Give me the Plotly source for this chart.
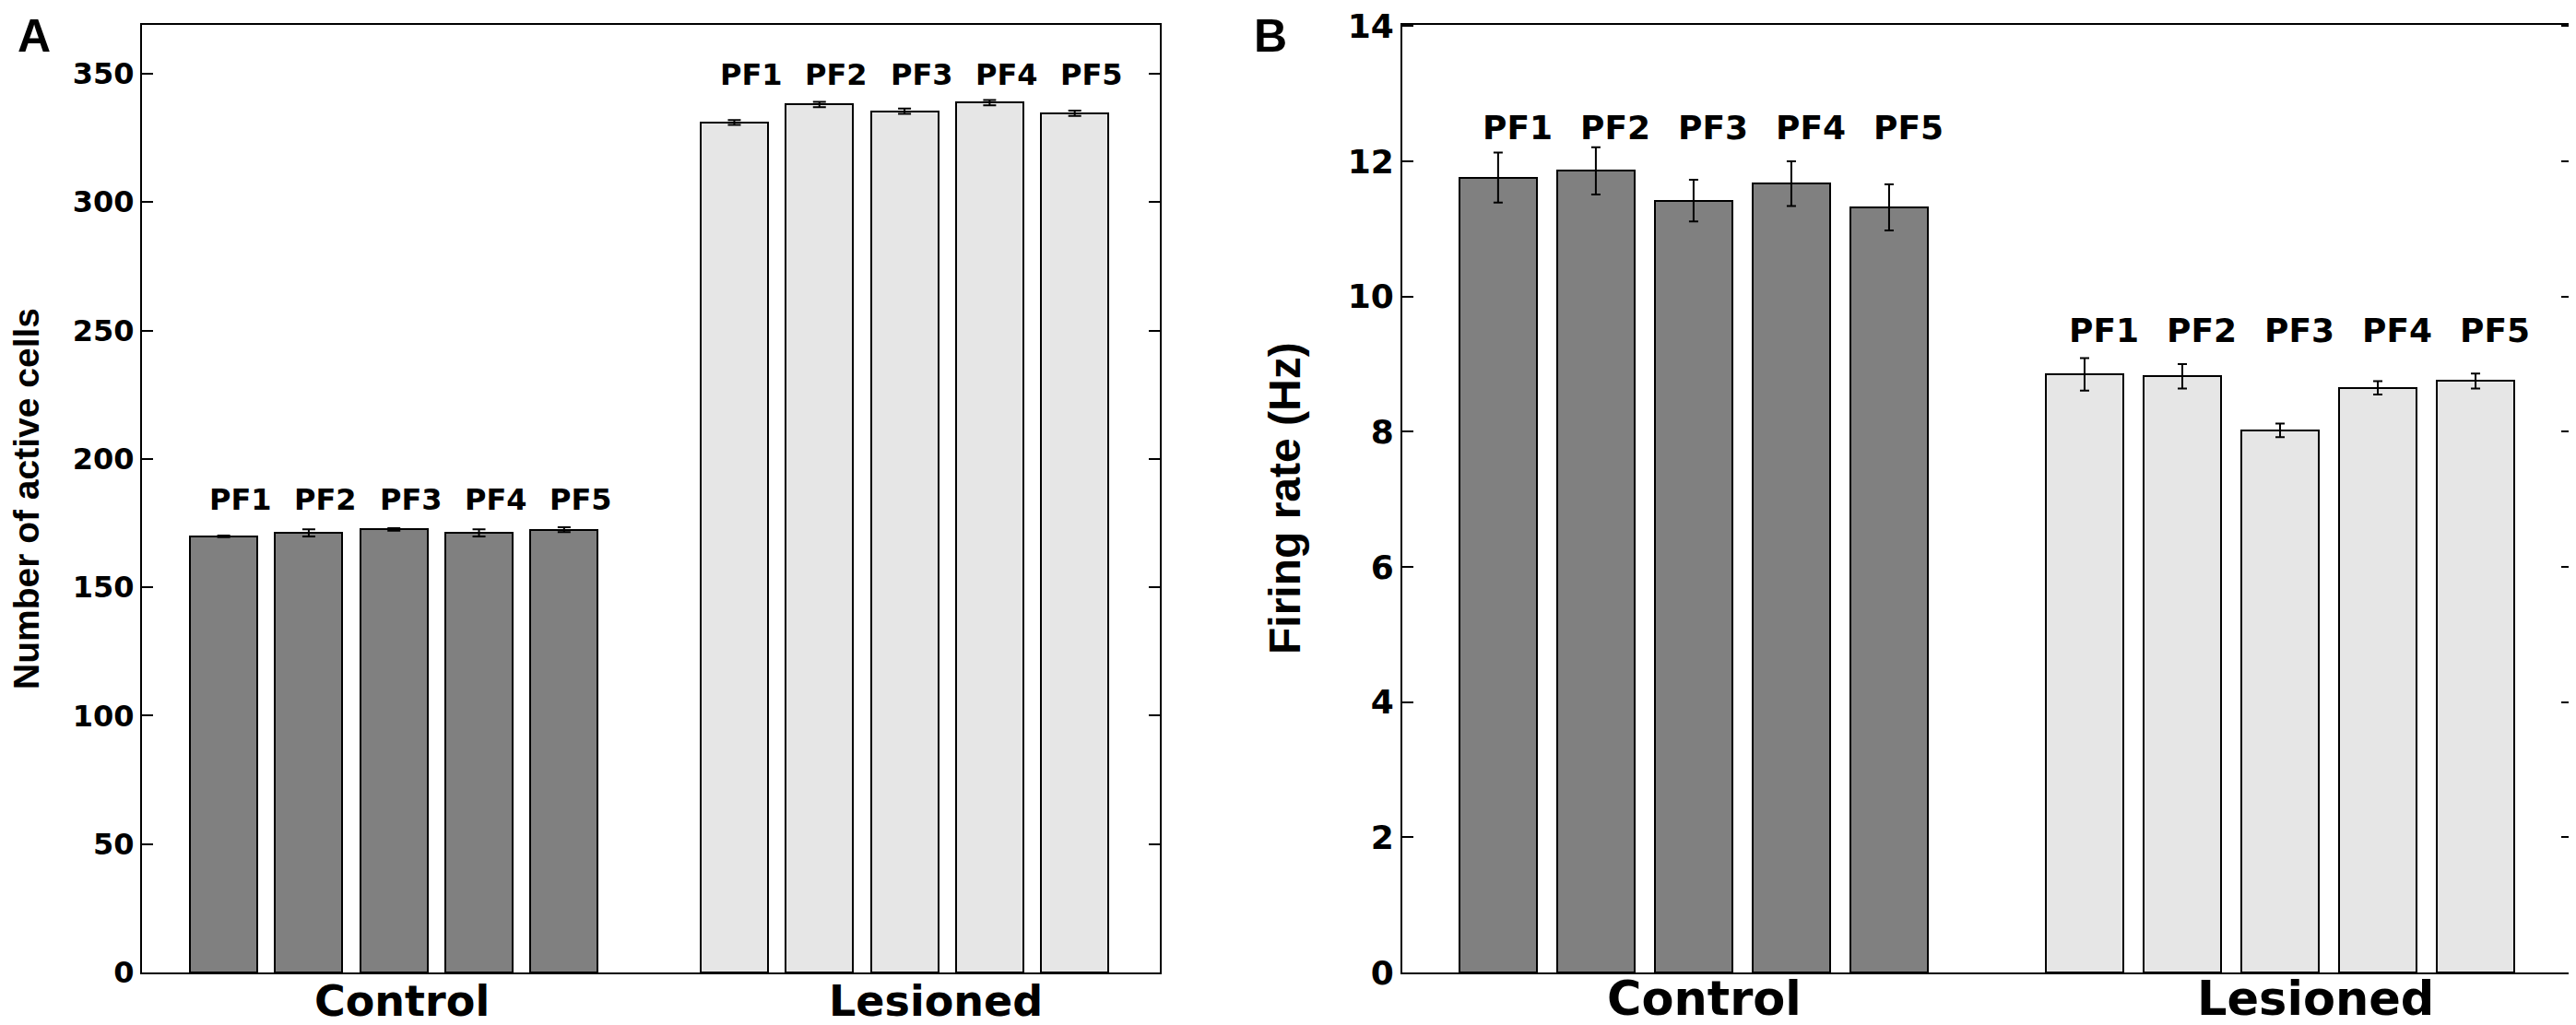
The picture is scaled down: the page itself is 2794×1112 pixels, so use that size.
import plotly.graph_objects as go

W, H = 2794, 1112

pf_labels = ["PF1", "PF2", "PF3", "PF4", "PF5"]
group_names = ["Control", "Lesioned"]

# A: number of active cells (mean +/- error)
cells_control = [169.8, 171.2, 172.5, 171.2, 172.4]
cells_control_err = [0.3, 1.4, 0.5, 1.4, 0.95]
cells_lesioned = [331.0, 338.0, 335.4, 338.7, 334.6]
cells_lesioned_err = [0.95, 1.0, 1.05, 1.05, 1.05]

# B: firing rate in Hz
rate_control = [11.76, 11.86, 11.42, 11.67, 11.32]
rate_control_err = [0.37, 0.35, 0.31, 0.33, 0.34]
rate_lesioned = [8.85, 8.82, 8.02, 8.65, 8.75]
rate_lesioned_err = [0.24, 0.18, 0.10, 0.10, 0.11]

# bar slots, one empty slot between the two groups
ctrl_pos = [1, 2, 3, 4, 5]
les_pos = [7, 8, 9, 10, 11]

DARK = "rgb(128,128,128)"
LIGHT = "rgb(230,230,230)"
FONT = "DejaVu Sans, sans-serif"
TITLE_FONT = "Arial, Liberation Sans, sans-serif"

fig = go.Figure()


def add_bars(xs, ys, errs, color, xa, ya, cap):
    fig.add_trace(go.Bar(x=xs, y=ys, width=0.79,
                         marker=dict(color=color, line=dict(color="black", width=2)),
                         error_y=dict(type="data", array=errs, color="black",
                                      thickness=2, width=cap),
                         xaxis=xa, yaxis=ya, showlegend=False))


add_bars(ctrl_pos, cells_control, cells_control_err, DARK, "x", "y", 7)
add_bars(les_pos, cells_lesioned, cells_lesioned_err, LIGHT, "x", "y", 7)
add_bars(ctrl_pos, rate_control, rate_control_err, DARK, "x2", "y2", 5)
add_bars(les_pos, rate_lesioned, rate_lesioned_err, LIGHT, "x2", "y2", 5)

annotations = []


def pf_text(positions, y, xref, yref, size):
    for p, name in zip(positions, pf_labels):
        annotations.append(dict(x=p + 0.2, y=y, xref=xref, yref=yref, text=name,
                                showarrow=False, xanchor="center", yanchor="middle",
                                font=dict(family=FONT, size=size, color="black", weight="bold")))


pf_text(ctrl_pos, 184, "x", "y", 32)
pf_text(les_pos, 349.5, "x", "y", 32)
pf_text(ctrl_pos, 12.5, "x2", "y2", 36)
pf_text(les_pos, 9.5, "x2", "y2", 36)


def group_text(xref, positions, y, size):
    for p, name in zip(positions, group_names):
        annotations.append(dict(x=p, y=y, xref=xref, yref="paper", text=name,
                                showarrow=False, xanchor="center", yanchor="middle",
                                font=dict(family=FONT, size=size, color="black", weight="bold")))


group_text("x", [3.1, 9.37], -0.030, 46)
group_text("x2", [3.11, 9.36], -0.028, 51)

# axis titles and panel letters
annotations += [
    dict(x=20 / W, y=0.5, xref="paper", yref="paper", text="Number of active cells",
         textangle=-90, showarrow=False, xanchor="center", yanchor="middle",
         font=dict(family=TITLE_FONT, size=39, color="black", weight="bold")),
    dict(x=1385 / W, y=0.5, xref="paper", yref="paper", text="Firing rate (Hz)",
         textangle=-90, showarrow=False, xanchor="center", yanchor="middle",
         font=dict(family=TITLE_FONT, size=48, color="black", weight="bold")),
    dict(x=29 / W, y=0.988, xref="paper", yref="paper", text="A",
         showarrow=False, xanchor="center", yanchor="middle",
         font=dict(family=TITLE_FONT, size=50, color="black", weight="bold")),
    dict(x=1370 / W, y=0.988, xref="paper", yref="paper", text="B",
         showarrow=False, xanchor="center", yanchor="middle",
         font=dict(family=TITLE_FONT, size=50, color="black", weight="bold")),
]

axis_common = dict(showline=True, linecolor="black", linewidth=2, showgrid=False,
                   zeroline=False)
yaxis_common = dict(ticks="inside", ticklen=12, tickwidth=2, tickcolor="black",
                    mirror="ticks", ticklabeloverflow="allow", **axis_common)

fig.update_layout(
    width=W, height=H,
    plot_bgcolor="white", paper_bgcolor="white",
    margin=dict(l=0, r=0, t=17, b=65),
    bargap=0,
    annotations=annotations,
    xaxis=dict(domain=[146 / W, 1250 / W], range=[0.04, 12.0], mirror=True,
               showticklabels=False, ticks="", **axis_common),
    yaxis=dict(domain=[0, 1], range=[0, 369], tickvals=list(range(0, 351, 50)),
               tickfont=dict(family=FONT, size=32, color="black", weight="bold"),
               **yaxis_common),
    xaxis2=dict(domain=[1513 / W, 2782 / W], range=[0.02, 11.99], mirror=True, anchor="y2",
                showticklabels=False, ticks="", **axis_common),
    yaxis2=dict(domain=[0, 1], range=[0, 14.02], tickvals=list(range(0, 15, 2)), anchor="x2",
                tickfont=dict(family=FONT, size=36, color="black", weight="bold"),
                **yaxis_common),
)

fig.write_html("out.html")
